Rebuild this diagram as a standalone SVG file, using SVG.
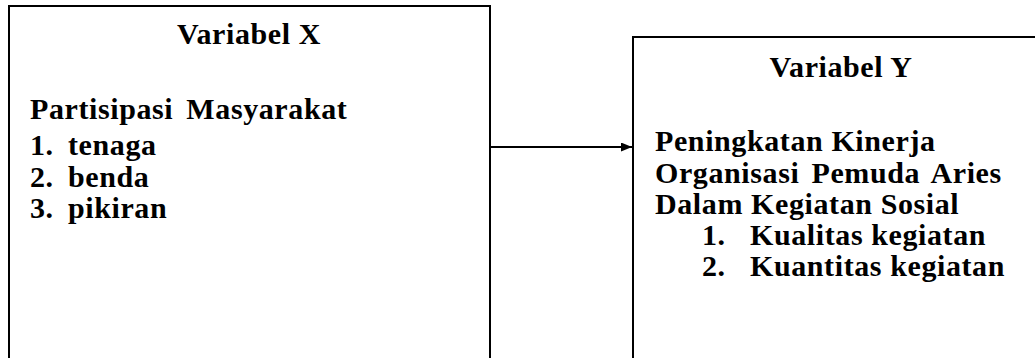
<svg xmlns="http://www.w3.org/2000/svg" width="1035" height="358" viewBox="0 0 1035 358">
<style>
.box{fill:#fff;stroke:#000;stroke-width:2}
.t{font-family:"Liberation Serif","Times New Roman",serif;font-weight:bold;font-size:30px;letter-spacing:0.6px;fill:#000}
.c{text-anchor:middle}
.edge{stroke:#000;stroke-width:2;fill:none}
</style>
<defs>
<marker id="ah" viewBox="0 0 11 9" refX="11" refY="4.5" markerWidth="11" markerHeight="9" markerUnits="userSpaceOnUse" orient="auto">
<path d="M0,0 L11,4.5 L0,9 Z" fill="#000"/>
</marker>
</defs>
<g id="node-x">
<rect class="box" x="9" y="6" width="481" height="370"/>
<text class="t c" x="249" y="44">Variabel X</text>
<text class="t" x="30" y="119" word-spacing="5">Partisipasi Masyarakat</text>
<text class="t" x="30" y="155">1.</text><text class="t" x="68" y="155">tenaga</text>
<text class="t" x="30" y="187">2.</text><text class="t" x="68" y="187">benda</text>
<text class="t" x="30" y="218">3.</text><text class="t" x="68" y="218">pikiran</text>
</g>
<g id="node-y">
<rect class="box" x="633" y="37" width="420" height="340"/>
<text class="t c" x="841" y="77">Variabel Y</text>
<text class="t" x="655" y="151">Peningkatan Kinerja</text>
<text class="t" x="655" y="183" word-spacing="4">Organisasi Pemuda Aries</text>
<text class="t" x="655" y="214">Dalam Kegiatan Sosial</text>
<text class="t" x="702" y="245">1.</text><text class="t" x="750" y="245">Kualitas kegiatan</text>
<text class="t" x="702" y="276">2.</text><text class="t" x="750" y="276">Kuantitas kegiatan</text>
</g>
<g id="connectors">
<line class="edge" x1="490" y1="147" x2="632" y2="147" marker-end="url(#ah)"/>
</g>
</svg>
